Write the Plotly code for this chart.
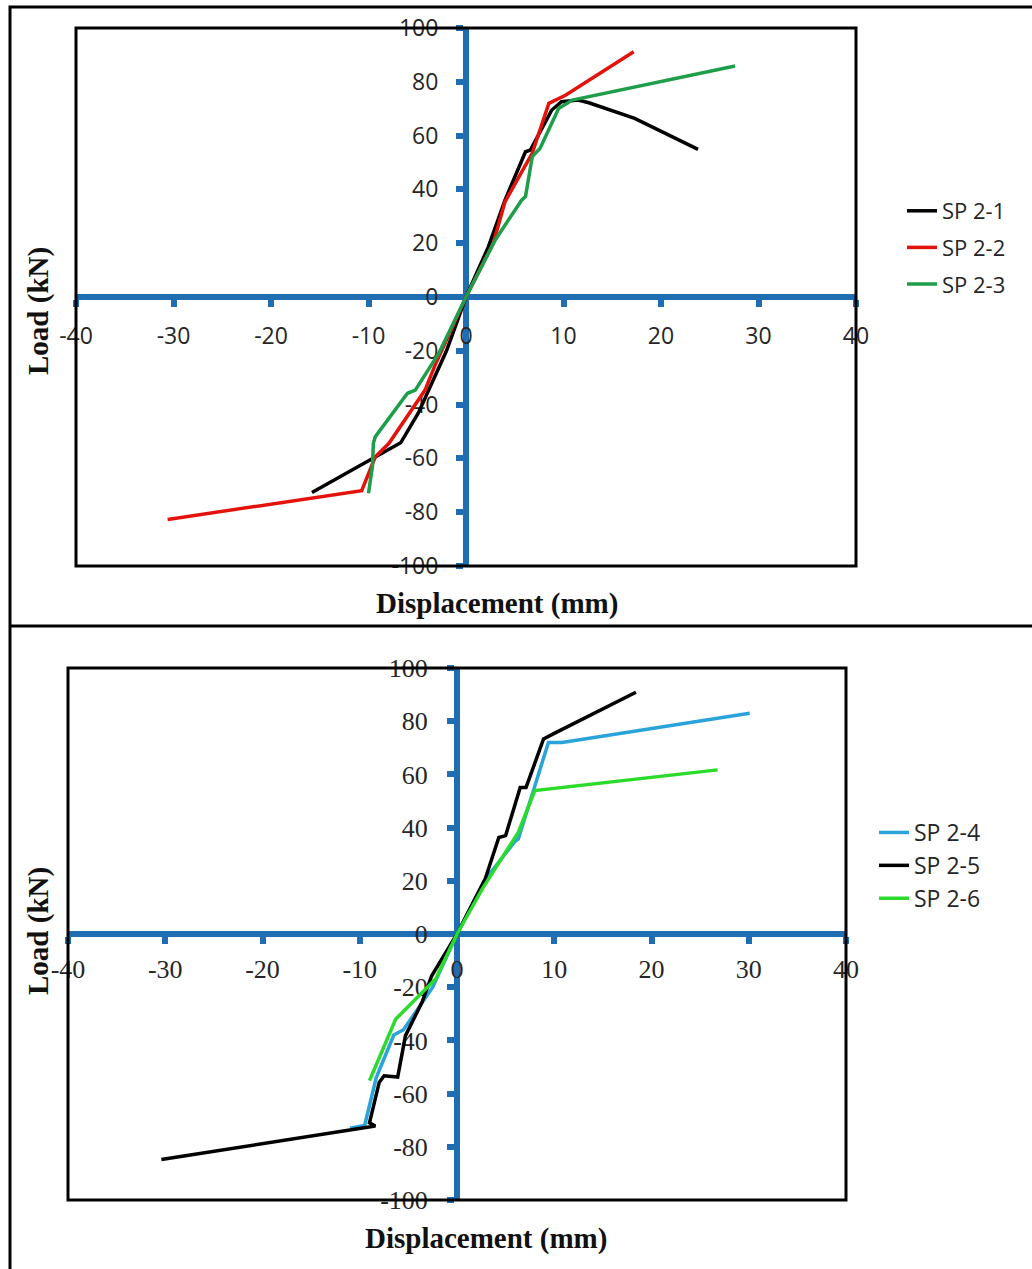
import plotly.graph_objects as go

# ---------------- data ----------------
sp21_x = [-15.8, -9.6, -6.7, -4.9, -2.0, -0.7, 0, 2.3, 4.0, 6.1, 6.6, 8.8, 9.8, 11.5, 12.6, 17.3, 23.8]
sp21_y = [-72.7, -59.9, -54.2, -43.2, -20.0, -7.0, 0, 18.7, 36.0, 54.0, 54.6, 69.5, 72.6, 73.2, 72.2, 66.4, 54.9]

sp22_x = [-30.6, -10.7, -9.3, -7.9, -4.2, -3.1, 0, 2.8, 4.0, 6.8, 8.5, 10.2, 17.2]
sp22_y = [-82.7, -72.0, -59.4, -54.4, -34.6, -24.7, 0, 20.0, 35.4, 53.5, 72.0, 75.0, 91.2]

sp23_x = [-10.0, -9.6, -9.5, -9.3, -6.0, -5.2, -2.8, 0, 3.0, 5.7, 6.1, 6.8, 7.6, 9.5, 10.9, 27.6]
sp23_y = [-73.0, -63.0, -54.4, -51.9, -35.8, -34.6, -21.0, 0, 21.2, 36.0, 37.3, 52.2, 55.3, 70.1, 73.2, 85.9]

sp24_x = [-11.0, -9.5, -8.3, -6.5, -5.5, -2.5, 0, 2.8, 6.0, 6.3, 9.4, 10.8, 30.1]
sp24_y = [-73.0, -72.0, -54.0, -38.0, -36.0, -20.0, 0, 20.0, 35.0, 35.7, 72.0, 72.0, 83.0]

sp25_x = [-30.4, -8.4, -9.0, -8.0, -7.5, -6.1, -5.3, -3.6, -2.6, 0, 2.9, 4.3, 5.0, 6.5, 7.1, 8.9, 10.1, 18.4]
sp25_y = [-84.8, -72.2, -71.0, -55.8, -53.3, -53.8, -38.2, -25.7, -15.7, 0, 20.7, 36.3, 37.0, 55.1, 55.1, 73.3, 75.6, 90.9]

sp26_x = [-9.0, -6.7, -6.3, -2.2, 0, 2.6, 6.3, 8.0, 26.8]
sp26_y = [-55.1, -35.7, -32.0, -16.9, 0, 17.0, 38.2, 53.9, 61.7]

top_names = ["SP 2-1", "SP 2-2", "SP 2-3"]
bot_names = ["SP 2-4", "SP 2-5", "SP 2-6"]

x_tickvals = [-40, -30, -20, -10, 0, 10, 20, 30, 40]
x_ticktext = ["-40", "-30", "-20", "-10", "0", "10", "20", "30", "40"]
y_tickvals = [-100, -80, -60, -40, -20, 0, 20, 40, 60, 80, 100]
y_ticktext = ["-100", "-80", "-60", "-40", "-20", "0", "20", "40", "60", "80", "100"]

x_title = "Displacement (mm)"
y_title = "Load (kN)"

# ---------------- styling ----------------
W, H = 1032, 1269
BLUE = "#1F6DB3"
top_colors = ["#000000", "#E3120B", "#1E9E4A"]
bot_colors = ["#2AA3DB", "#000000", "#2BDB2B"]


def px(x):
    return x / W


def py(y):
    return (H - y) / H


top_xdom = [px(76), px(856)]
top_ydom = [py(566), py(28)]
bot_xdom = [px(68), px(846)]
bot_ydom = [py(1200), py(668)]

fig = go.Figure()

top_data = [(sp21_x, sp21_y), (sp22_x, sp22_y), (sp23_x, sp23_y)]
bot_data = [(sp24_x, sp24_y), (sp25_x, sp25_y), (sp26_x, sp26_y)]

for i, ((xs, ys), name, col) in enumerate(zip(top_data, top_names, top_colors)):
    fig.add_trace(go.Scatter(x=xs, y=ys, mode="lines", name=name,
                             line=dict(color=col, width=3.5),
                             xaxis="x", yaxis="y", legend="legend",
                             legendgroup="t%d" % i))

for i, ((xs, ys), name, col) in enumerate(zip(bot_data, bot_names, bot_colors)):
    fig.add_trace(go.Scatter(x=xs, y=ys, mode="lines", name=name,
                             line=dict(color=col, width=3.5),
                             xaxis="x2", yaxis="y2", legend="legend2",
                             legendgroup="b%d" % i))

sans = "Open Sans"
serif = "Liberation Serif"


def xaxis_cfg(dom, ydom, font, standoff):
    return dict(domain=dom, range=[-40, 40], anchor="free",
                position=(ydom[0] + ydom[1]) / 2,
                showline=True, linecolor=BLUE, linewidth=6,
                ticks="outside", ticklen=7, tickwidth=6, tickcolor=BLUE,
                tickmode="array", tickvals=x_tickvals, ticktext=x_ticktext,
                showgrid=False, zeroline=False,
                layer="below traces", tickfont=font, ticklabelstandoff=standoff,
                fixedrange=True)


def yaxis_cfg(dom, xdom, font, standoff):
    return dict(domain=dom, range=[-100, 100], anchor="free",
                position=(xdom[0] + xdom[1]) / 2,
                showline=True, linecolor=BLUE, linewidth=6,
                ticks="outside", ticklen=7, tickwidth=6, tickcolor=BLUE,
                tickmode="array", tickvals=y_tickvals, ticktext=y_ticktext,
                showgrid=False, zeroline=False,
                layer="below traces", tickfont=font, ticklabelstandoff=standoff,
                fixedrange=True)


top_font = dict(family=sans, size=23, color="#262626")
bot_font = dict(family=serif, size=26, color="#262626")

fig.update_layout(
    width=W, height=H,
    margin=dict(l=0, r=0, t=0, b=0, autoexpand=False),
    paper_bgcolor="white", plot_bgcolor="white",
    xaxis=xaxis_cfg(top_xdom, top_ydom, top_font, 9),
    yaxis=yaxis_cfg(top_ydom, top_xdom, top_font, 13),
    xaxis2=xaxis_cfg(bot_xdom, bot_ydom, bot_font, 3),
    yaxis2=yaxis_cfg(bot_ydom, bot_xdom, bot_font, 14),
    legend=dict(x=px(902), y=py(190), xanchor="left", yanchor="top",
                bgcolor="rgba(0,0,0,0)", tracegroupgap=5,
                font=dict(family=sans, size=22, color="#262626")),
    legend2=dict(x=px(874), y=py(811), xanchor="left", yanchor="top",
                 bgcolor="rgba(0,0,0,0)", tracegroupgap=0,
                 font=dict(family=sans, size=23, color="#262626")),
    showlegend=True,
)

# plot-area boxes
for xr, yr in (("x domain", "y domain"), ("x2 domain", "y2 domain")):
    fig.add_shape(type="rect", xref=xr, yref=yr, x0=0, x1=1, y0=0, y1=1,
                  line=dict(color="black", width=3), layer="above")

# outer frame and divider
fig.add_shape(type="rect", xref="paper", yref="paper",
              x0=px(10), x1=px(1045), y0=py(1285), y1=py(7),
              line=dict(color="black", width=3), layer="above")
fig.add_shape(type="line", xref="paper", yref="paper",
              x0=px(10), x1=px(1045), y0=py(626), y1=py(626),
              line=dict(color="black", width=3), layer="above")

title_font = dict(family=serif, size=29, color="#111111")
annos = [
    (x_title, px(497), py(603), 0),
    (y_title, px(38), py(311), -90),
    (x_title, px(486), py(1238), 0),
    (y_title, px(38), py(931), -90),
]
for txt, ax_, ay_, ang in annos:
    fig.add_annotation(text="<b>%s</b>" % txt, x=ax_, y=ay_, xref="paper", yref="paper",
                       showarrow=False, textangle=ang, font=title_font,
                       xanchor="center", yanchor="middle")

fig.write_html("out.html", config={"displayModeBar": False},
               post_script="document.body.style.margin='0px';")
